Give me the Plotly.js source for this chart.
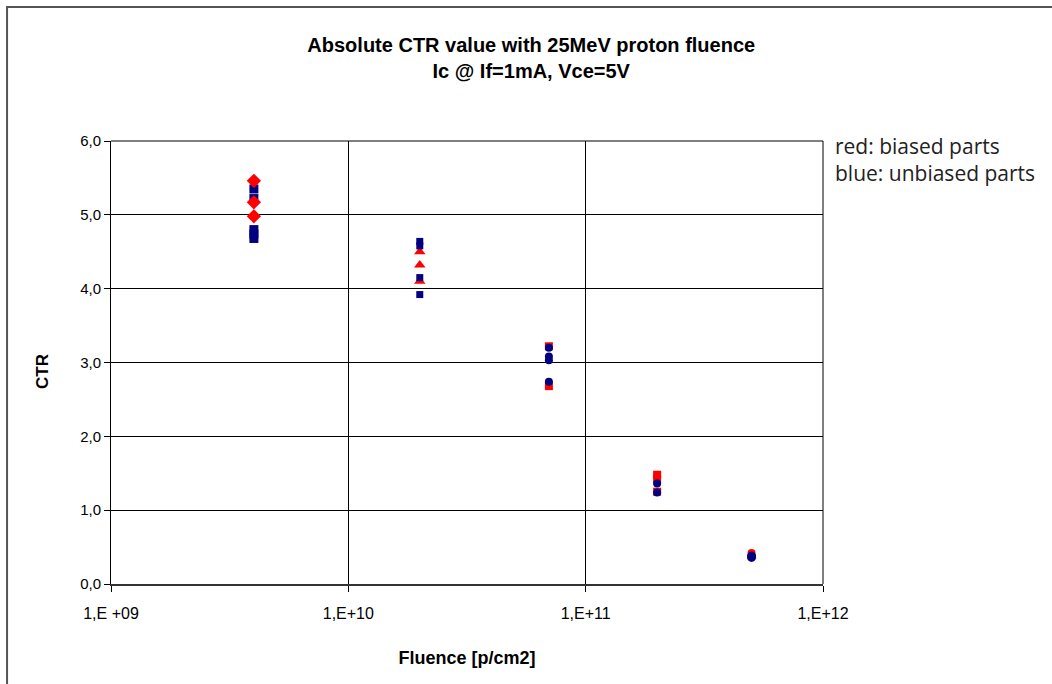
<!DOCTYPE html>
<html>
<head>
<meta charset="utf-8">
<script src="https://cdn.plot.ly/plotly-3.0.1.min.js"></script>
<style>html,body{margin:0;padding:0;background:#fff;}#chart{width:1052px;height:684px;}</style>
</head>
<body>
<div id="chart"></div>
<script>
// Fluence groups [p/cm2]
const fluences = [4e9, 2e10, 7e10, 2e11, 5e11];
// Biased parts (red)
const biasedCTR = [
  [5.46, 5.17, 4.98],
  [4.50, 4.32, 4.10],
  [3.22, 2.68],
  [1.48, 1.42, 1.25],
  [0.42]
];
// Unbiased parts (blue)
const unbiasedCTR = [
  [5.35, 5.22, 4.80, 4.74, 4.68],
  [4.64, 4.58, 4.15, 3.92],
  [3.20, 3.08, 3.03, 2.74],
  [1.36, 1.24],
  [0.38, 0.36]
];
const xTickVals = [1e9, 1e10, 1e11, 1e12];
const xTickText = ['1,E +09', '1,E+10', '1,E+11', '1,E+12'];
const yTickVals = [0, 1, 2, 3, 4, 5, 6];

const redSymbols = ['diamond', 'triangle-up', 'square', 'square', 'circle'];
const blueSymbols = ['square', 'square', 'circle', 'circle', 'circle'];
const redSizes = [11, 10, 8, 8, 8];
const blueSizes = [9, 7, 8, 8, 9];

const traces = [];
fluences.forEach((f, i) => {
  const red = {
    type: 'scatter', mode: 'markers',
    x: biasedCTR[i].map(() => f), y: biasedCTR[i],
    marker: {color: '#FF0000', symbol: redSymbols[i], size: redSizes[i], line: {width: 0}},
    showlegend: false, hoverinfo: 'x+y'
  };
  const blue = {
    type: 'scatter', mode: 'markers',
    x: unbiasedCTR[i].map(() => f), y: unbiasedCTR[i],
    marker: {color: '#000080', symbol: blueSymbols[i], size: blueSizes[i], line: {width: 0}},
    showlegend: false, hoverinfo: 'x+y'
  };
  if (i === 0) { traces.push(blue, red); } else { traces.push(red, blue); }
});

const font = 'Liberation Sans, Arial, sans-serif';
const layout = {
  width: 1052, height: 684,
  margin: {l: 111, r: 229, t: 141, b: 100},
  paper_bgcolor: '#ffffff', plot_bgcolor: '#ffffff',
  separators: ',.',
  font: {family: font, color: '#000', size: 14},
  title: {
    text: '<b>Absolute CTR value with 25MeV proton fluence<br>Ic @ If=1mA, Vce=5V</b>',
    x: 0.505, xref: 'container', xanchor: 'center',
    y: 1 - 52/684, yref: 'container', yanchor: 'middle',
    font: {family: font, size: 20, color: '#000'}
  },
  xaxis: {
    type: 'log', range: [9, 12],
    tickvals: xTickVals, ticktext: xTickText,
    showgrid: true, gridcolor: '#000', gridwidth: 1,
    showline: true, linecolor: '#333', linewidth: 2,
    ticks: 'outside', ticklen: 6, tickcolor: '#000', tickwidth: 1,
    ticklabelstandoff: 8,
    tickfont: {family: font, size: 16, color: '#000'},
    zeroline: false,
    title: {text: '<b>Fluence [p/cm2]</b>', font: {family: font, size: 18, color: '#000'}, standoff: 30}
  },
  yaxis: {
    range: [0, 6], tickvals: yTickVals, tickformat: '.1f',
    showgrid: true, gridcolor: '#000', gridwidth: 1,
    showline: true, linecolor: '#000', linewidth: 1,
    ticks: 'outside', ticklen: 6, tickcolor: '#000', tickwidth: 1,
    tickfont: {family: font, size: 15, color: '#000'},
    zeroline: false
  },
  shapes: [
    {type: 'rect', xref: 'paper', yref: 'paper', x0: -0.146, x1: 1.5, y0: -0.4, y1: 1.3025,
     line: {color: '#555', width: 2}, fillcolor: 'rgba(0,0,0,0)', layer: 'below'},
    {type: 'line', xref: 'paper', yref: 'paper', x0: 0, x1: 1, y0: 1, y1: 1, line: {color: '#000', width: 1}},
    {type: 'line', xref: 'paper', yref: 'paper', x0: 1, x1: 1, y0: 0, y1: 1, line: {color: '#000', width: 1}}
  ],
  annotations: [
    {text: 'red: biased parts<br>blue: unbiased parts', xref: 'paper', yref: 'paper',
     x: (833 - 111) / 712, y: 1 + 11/443, xanchor: 'left', yanchor: 'top', align: 'left',
     showarrow: false, font: {family: 'Open Sans, sans-serif', size: 21, color: '#222'}},
    {text: '<b>CTR</b>', xref: 'paper', yref: 'paper', x: (42 - 111) / 712, y: (584 - 372) / 443,
     xanchor: 'center', yanchor: 'middle', textangle: -90, showarrow: false,
     font: {family: font, size: 17, color: '#000'}}
  ]
};

Plotly.newPlot('chart', traces, layout, {displayModeBar: false, responsive: false});
</script>
</body>
</html>
